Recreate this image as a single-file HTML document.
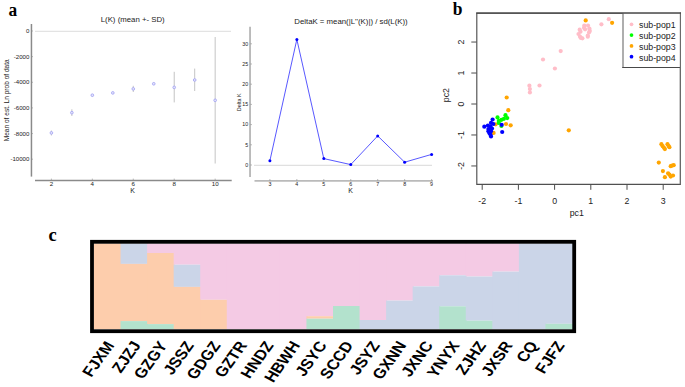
<!DOCTYPE html>
<html><head><meta charset="utf-8"><style>
html,body{margin:0;padding:0;background:#fff;}
svg{display:block;}
text{font-family:"Liberation Sans", sans-serif;}
</style></head><body>
<svg width="685" height="387" viewBox="0 0 685 387">
<rect width="685" height="387" fill="#fff"/>
<text transform="translate(8.6,15.9) scale(0.87,0.97)" style='font-family:"Liberation Serif", serif' font-weight="bold" font-size="20">a</text>
<text transform="translate(452.8,15.3) scale(0.92,0.99)" style='font-family:"Liberation Serif", serif' font-weight="bold" font-size="19">b</text>
<text transform="translate(48.4,241.3) scale(0.92,0.97)" style='font-family:"Liberation Serif", serif' font-weight="bold" font-size="20">c</text>
<line x1="35" y1="31.35" x2="231" y2="31.35" stroke="#e3e3e3" stroke-width="1.3"/>
<line x1="31.45" y1="24" x2="31.45" y2="176.6" stroke="#8a8a8a" stroke-width="1.5"/>
<line x1="35" y1="180.4" x2="231.7" y2="180.4" stroke="#8a8a8a" stroke-width="1.5"/>
<line x1="31.4" y1="31.00" x2="33" y2="31.00" stroke="#8c8c8c" stroke-width="0.6"/>
<text x="29.4" y="33.20" font-size="6.1" text-anchor="end" fill="#222">0</text>
<line x1="31.4" y1="56.64" x2="33" y2="56.64" stroke="#8c8c8c" stroke-width="0.6"/>
<text x="29.4" y="58.84" font-size="6.1" text-anchor="end" fill="#222">-2000</text>
<line x1="31.4" y1="82.28" x2="33" y2="82.28" stroke="#8c8c8c" stroke-width="0.6"/>
<text x="29.4" y="84.48" font-size="6.1" text-anchor="end" fill="#222">-4000</text>
<line x1="31.4" y1="107.92" x2="33" y2="107.92" stroke="#8c8c8c" stroke-width="0.6"/>
<text x="29.4" y="110.12" font-size="6.1" text-anchor="end" fill="#222">-6000</text>
<line x1="31.4" y1="133.56" x2="33" y2="133.56" stroke="#8c8c8c" stroke-width="0.6"/>
<text x="29.4" y="135.76" font-size="6.1" text-anchor="end" fill="#222">-8000</text>
<line x1="31.4" y1="159.20" x2="33" y2="159.20" stroke="#8c8c8c" stroke-width="0.6"/>
<text x="29.4" y="161.40" font-size="6.1" text-anchor="end" fill="#222">-10000</text>
<line x1="51.40" y1="180.4" x2="51.40" y2="178.6" stroke="#8c8c8c" stroke-width="0.6"/>
<text x="51.40" y="186" font-size="6.2" text-anchor="middle" fill="#222">2</text>
<line x1="92.34" y1="180.4" x2="92.34" y2="178.6" stroke="#8c8c8c" stroke-width="0.6"/>
<text x="92.34" y="186" font-size="6.2" text-anchor="middle" fill="#222">4</text>
<line x1="133.28" y1="180.4" x2="133.28" y2="178.6" stroke="#8c8c8c" stroke-width="0.6"/>
<text x="133.28" y="186" font-size="6.2" text-anchor="middle" fill="#222">6</text>
<line x1="174.22" y1="180.4" x2="174.22" y2="178.6" stroke="#8c8c8c" stroke-width="0.6"/>
<text x="174.22" y="186" font-size="6.2" text-anchor="middle" fill="#222">8</text>
<line x1="215.16" y1="180.4" x2="215.16" y2="178.6" stroke="#8c8c8c" stroke-width="0.6"/>
<text x="215.16" y="186" font-size="6.2" text-anchor="middle" fill="#222">10</text>
<text x="132.7" y="192.8" font-size="7" text-anchor="middle" fill="#222">K</text>
<text x="132.7" y="22.3" font-size="7.8" text-anchor="middle" fill="#222">L(K) (mean +- SD)</text>
<text transform="translate(8.6,100.3) rotate(-90)" font-size="6.55" text-anchor="middle" fill="#222">Mean of est. Ln prob of data</text>
<line x1="51.40" y1="130.5" x2="51.40" y2="135.5" stroke="#bdbdbd" stroke-width="0.9"/>
<line x1="71.87" y1="109.3" x2="71.87" y2="116" stroke="#bdbdbd" stroke-width="0.9"/>
<line x1="92.34" y1="94" x2="92.34" y2="96.4" stroke="#bdbdbd" stroke-width="0.9"/>
<line x1="112.81" y1="92" x2="112.81" y2="94" stroke="#bdbdbd" stroke-width="0.9"/>
<line x1="133.28" y1="85.8" x2="133.28" y2="92" stroke="#bdbdbd" stroke-width="0.9"/>
<line x1="153.75" y1="82.8" x2="153.75" y2="84.8" stroke="#bdbdbd" stroke-width="0.9"/>
<line x1="174.22" y1="71.8" x2="174.22" y2="102.4" stroke="#bdbdbd" stroke-width="0.9"/>
<line x1="194.69" y1="68.6" x2="194.69" y2="91" stroke="#bdbdbd" stroke-width="0.9"/>
<line x1="215.16" y1="37" x2="215.16" y2="163.5" stroke="#bdbdbd" stroke-width="0.9"/>
<circle cx="51.40" cy="132.9" r="1.35" fill="#e4e4fb" stroke="#a0a0f2" stroke-width="0.8"/>
<circle cx="71.87" cy="112.7" r="1.35" fill="#e4e4fb" stroke="#a0a0f2" stroke-width="0.8"/>
<circle cx="92.34" cy="95.2" r="1.35" fill="#e4e4fb" stroke="#a0a0f2" stroke-width="0.8"/>
<circle cx="112.81" cy="92.9" r="1.35" fill="#e4e4fb" stroke="#a0a0f2" stroke-width="0.8"/>
<circle cx="133.28" cy="88.9" r="1.35" fill="#e4e4fb" stroke="#a0a0f2" stroke-width="0.8"/>
<circle cx="153.75" cy="83.8" r="1.35" fill="#e4e4fb" stroke="#a0a0f2" stroke-width="0.8"/>
<circle cx="174.22" cy="87.4" r="1.35" fill="#e4e4fb" stroke="#a0a0f2" stroke-width="0.8"/>
<circle cx="194.69" cy="80" r="1.35" fill="#e4e4fb" stroke="#a0a0f2" stroke-width="0.8"/>
<circle cx="215.16" cy="100.3" r="1.35" fill="#e4e4fb" stroke="#a0a0f2" stroke-width="0.8"/>
<line x1="254" y1="165.45" x2="432" y2="165.45" stroke="#e0e0e0" stroke-width="1.2"/>
<line x1="250.05" y1="26.7" x2="250.05" y2="177" stroke="#bababa" stroke-width="1.9"/>
<line x1="254.5" y1="180.85" x2="433" y2="180.85" stroke="#bababa" stroke-width="1.9"/>
<line x1="250.4" y1="165.00" x2="252" y2="165.00" stroke="#8c8c8c" stroke-width="0.6"/>
<text x="248.1" y="166.70" font-size="5.3" text-anchor="end" fill="#222">0</text>
<line x1="250.4" y1="144.80" x2="252" y2="144.80" stroke="#8c8c8c" stroke-width="0.6"/>
<text x="248.1" y="146.50" font-size="5.3" text-anchor="end" fill="#222">5</text>
<line x1="250.4" y1="124.60" x2="252" y2="124.60" stroke="#8c8c8c" stroke-width="0.6"/>
<text x="248.1" y="126.30" font-size="5.3" text-anchor="end" fill="#222">10</text>
<line x1="250.4" y1="104.40" x2="252" y2="104.40" stroke="#8c8c8c" stroke-width="0.6"/>
<text x="248.1" y="106.10" font-size="5.3" text-anchor="end" fill="#222">15</text>
<line x1="250.4" y1="84.20" x2="252" y2="84.20" stroke="#8c8c8c" stroke-width="0.6"/>
<text x="248.1" y="85.90" font-size="5.3" text-anchor="end" fill="#222">20</text>
<line x1="250.4" y1="64.00" x2="252" y2="64.00" stroke="#8c8c8c" stroke-width="0.6"/>
<text x="248.1" y="65.70" font-size="5.3" text-anchor="end" fill="#222">25</text>
<line x1="250.4" y1="43.80" x2="252" y2="43.80" stroke="#8c8c8c" stroke-width="0.6"/>
<text x="248.1" y="45.50" font-size="5.3" text-anchor="end" fill="#222">30</text>
<line x1="269.90" y1="180.8" x2="269.90" y2="179" stroke="#8c8c8c" stroke-width="0.6"/>
<text x="269.90" y="186.1" font-size="5.3" text-anchor="middle" fill="#222">3</text>
<line x1="296.85" y1="180.8" x2="296.85" y2="179" stroke="#8c8c8c" stroke-width="0.6"/>
<text x="296.85" y="186.1" font-size="5.3" text-anchor="middle" fill="#222">4</text>
<line x1="323.80" y1="180.8" x2="323.80" y2="179" stroke="#8c8c8c" stroke-width="0.6"/>
<text x="323.80" y="186.1" font-size="5.3" text-anchor="middle" fill="#222">5</text>
<line x1="350.75" y1="180.8" x2="350.75" y2="179" stroke="#8c8c8c" stroke-width="0.6"/>
<text x="350.75" y="186.1" font-size="5.3" text-anchor="middle" fill="#222">6</text>
<line x1="377.70" y1="180.8" x2="377.70" y2="179" stroke="#8c8c8c" stroke-width="0.6"/>
<text x="377.70" y="186.1" font-size="5.3" text-anchor="middle" fill="#222">7</text>
<line x1="404.65" y1="180.8" x2="404.65" y2="179" stroke="#8c8c8c" stroke-width="0.6"/>
<text x="404.65" y="186.1" font-size="5.3" text-anchor="middle" fill="#222">8</text>
<line x1="431.60" y1="180.8" x2="431.60" y2="179" stroke="#8c8c8c" stroke-width="0.6"/>
<text x="431.60" y="186.1" font-size="5.3" text-anchor="middle" fill="#222">9</text>
<text x="350.6" y="192.8" font-size="7" text-anchor="middle" fill="#222">K</text>
<text x="351" y="24.3" font-size="7.8" text-anchor="middle" fill="#222">DeltaK = mean(|L''(K)|) / sd(L(K))</text>
<text transform="translate(241.1,102.3) rotate(-90)" font-size="5.4" text-anchor="middle" fill="#222">Delta K</text>
<polyline points="269.90,160.7 296.85,39.4 323.80,158.6 350.75,164.6 377.70,135.9 404.65,162.2 431.60,154.4" fill="none" stroke="#3a3aff" stroke-width="0.85"/>
<circle cx="269.90" cy="160.7" r="1.5" fill="#0000ff"/>
<circle cx="296.85" cy="39.4" r="1.5" fill="#0000ff"/>
<circle cx="323.80" cy="158.6" r="1.5" fill="#0000ff"/>
<circle cx="350.75" cy="164.6" r="1.5" fill="#0000ff"/>
<circle cx="377.70" cy="135.9" r="1.5" fill="#0000ff"/>
<circle cx="404.65" cy="162.2" r="1.5" fill="#0000ff"/>
<circle cx="431.60" cy="154.4" r="1.5" fill="#0000ff"/>
<path d="M476.8,13.15 H680.4 V184.3 H476.8 Z" fill="none" stroke="#505050" stroke-width="1.15"/>
<line x1="482.20" y1="184.1" x2="482.20" y2="189.8" stroke="#4d4d4d" stroke-width="1"/>
<text transform="translate(482.20,204) scale(1,1.1)" font-size="8.8" text-anchor="middle" fill="#222">-2</text>
<line x1="518.40" y1="184.1" x2="518.40" y2="189.8" stroke="#4d4d4d" stroke-width="1"/>
<text transform="translate(518.40,204) scale(1,1.1)" font-size="8.8" text-anchor="middle" fill="#222">-1</text>
<line x1="554.60" y1="184.1" x2="554.60" y2="189.8" stroke="#4d4d4d" stroke-width="1"/>
<text transform="translate(554.60,204) scale(1,1.1)" font-size="8.8" text-anchor="middle" fill="#222">0</text>
<line x1="590.80" y1="184.1" x2="590.80" y2="189.8" stroke="#4d4d4d" stroke-width="1"/>
<text transform="translate(590.80,204) scale(1,1.1)" font-size="8.8" text-anchor="middle" fill="#222">1</text>
<line x1="627.00" y1="184.1" x2="627.00" y2="189.8" stroke="#4d4d4d" stroke-width="1"/>
<text transform="translate(627.00,204) scale(1,1.1)" font-size="8.8" text-anchor="middle" fill="#222">2</text>
<line x1="663.20" y1="184.1" x2="663.20" y2="189.8" stroke="#4d4d4d" stroke-width="1"/>
<text transform="translate(663.20,204) scale(1,1.1)" font-size="8.8" text-anchor="middle" fill="#222">3</text>
<line x1="476.7" y1="165.96" x2="471.3" y2="165.96" stroke="#4d4d4d" stroke-width="1"/>
<text transform="translate(464.1,165.96) scale(1.1,1) rotate(-90)" font-size="8.8" text-anchor="middle" fill="#222">-2</text>
<line x1="476.7" y1="134.98" x2="471.3" y2="134.98" stroke="#4d4d4d" stroke-width="1"/>
<text transform="translate(464.1,134.98) scale(1.1,1) rotate(-90)" font-size="8.8" text-anchor="middle" fill="#222">-1</text>
<line x1="476.7" y1="104.00" x2="471.3" y2="104.00" stroke="#4d4d4d" stroke-width="1"/>
<text transform="translate(464.1,104.00) scale(1.1,1) rotate(-90)" font-size="8.8" text-anchor="middle" fill="#222">0</text>
<line x1="476.7" y1="73.02" x2="471.3" y2="73.02" stroke="#4d4d4d" stroke-width="1"/>
<text transform="translate(464.1,73.02) scale(1.1,1) rotate(-90)" font-size="8.8" text-anchor="middle" fill="#222">1</text>
<line x1="476.7" y1="42.04" x2="471.3" y2="42.04" stroke="#4d4d4d" stroke-width="1"/>
<text transform="translate(464.1,42.04) scale(1.1,1) rotate(-90)" font-size="8.8" text-anchor="middle" fill="#222">2</text>
<text transform="translate(576.8,216) scale(1,1.06)" font-size="8.8" text-anchor="middle" fill="#222">pc1</text>
<text transform="translate(448.5,95.1) rotate(-90)" font-size="8.8" text-anchor="middle" fill="#222">pc2</text>
<circle cx="608.8" cy="19.2" r="2.1" fill="#ffbdc8"/>
<circle cx="601.4" cy="24.3" r="2.1" fill="#ffbdc8"/>
<circle cx="584.3" cy="25.5" r="2.1" fill="#ffbdc8"/>
<circle cx="588" cy="25.5" r="2.1" fill="#ffbdc8"/>
<circle cx="584" cy="27.8" r="2.1" fill="#ffbdc8"/>
<circle cx="589.4" cy="28.6" r="2.1" fill="#ffbdc8"/>
<circle cx="579.7" cy="29.7" r="2.1" fill="#ffbdc8"/>
<circle cx="585.1" cy="29.3" r="2.1" fill="#ffbdc8"/>
<circle cx="589.8" cy="30.9" r="2.1" fill="#ffbdc8"/>
<circle cx="580.5" cy="31.7" r="2.1" fill="#ffbdc8"/>
<circle cx="589" cy="32.4" r="2.1" fill="#ffbdc8"/>
<circle cx="578.5" cy="34" r="2.1" fill="#ffbdc8"/>
<circle cx="587.8" cy="35.5" r="2.1" fill="#ffbdc8"/>
<circle cx="580" cy="36.7" r="2.1" fill="#ffbdc8"/>
<circle cx="587.8" cy="36.7" r="2.1" fill="#ffbdc8"/>
<circle cx="582.4" cy="38.3" r="2.1" fill="#ffbdc8"/>
<circle cx="580.9" cy="37.9" r="2.1" fill="#ffbdc8"/>
<circle cx="560.7" cy="51.1" r="2.1" fill="#ffbdc8"/>
<circle cx="543" cy="59.5" r="2.1" fill="#ffbdc8"/>
<circle cx="554.9" cy="68.5" r="2.1" fill="#ffbdc8"/>
<circle cx="539.5" cy="85.5" r="2.1" fill="#ffbdc8"/>
<circle cx="529.4" cy="85.7" r="2.1" fill="#ffbdc8"/>
<circle cx="529.9" cy="89.1" r="2.1" fill="#ffbdc8"/>
<circle cx="529.9" cy="92.5" r="2.1" fill="#ffbdc8"/>
<circle cx="585.7" cy="20.4" r="2.1" fill="#ffa500"/>
<circle cx="612.1" cy="22.8" r="2.1" fill="#ffa500"/>
<circle cx="506.7" cy="97.5" r="2.1" fill="#ffa500"/>
<circle cx="508.3" cy="110.2" r="2.1" fill="#ffa500"/>
<circle cx="506" cy="124" r="2.1" fill="#ffa500"/>
<circle cx="510.7" cy="125.3" r="2.1" fill="#ffa500"/>
<circle cx="495.7" cy="124.3" r="2.1" fill="#ffa500"/>
<circle cx="493.6" cy="132.9" r="2.1" fill="#ffa500"/>
<circle cx="568.8" cy="130.3" r="2.1" fill="#ffa500"/>
<circle cx="661.4" cy="144.2" r="2.1" fill="#ffa500"/>
<circle cx="662.7" cy="146.2" r="2.1" fill="#ffa500"/>
<circle cx="664" cy="147.8" r="2.1" fill="#ffa500"/>
<circle cx="664.9" cy="149.1" r="2.1" fill="#ffa500"/>
<circle cx="667.5" cy="144.2" r="2.1" fill="#ffa500"/>
<circle cx="668.5" cy="145.8" r="2.1" fill="#ffa500"/>
<circle cx="669.4" cy="147.2" r="2.1" fill="#ffa500"/>
<circle cx="658.8" cy="162.6" r="2.1" fill="#ffa500"/>
<circle cx="670.7" cy="166.2" r="2.1" fill="#ffa500"/>
<circle cx="672" cy="165.6" r="2.1" fill="#ffa500"/>
<circle cx="673.7" cy="165.2" r="2.1" fill="#ffa500"/>
<circle cx="662.9" cy="171.1" r="2.1" fill="#ffa500"/>
<circle cx="668.1" cy="173.3" r="2.1" fill="#ffa500"/>
<circle cx="669.4" cy="174.6" r="2.1" fill="#ffa500"/>
<circle cx="670.7" cy="176.6" r="2.1" fill="#ffa500"/>
<circle cx="673" cy="175.5" r="2.1" fill="#ffa500"/>
<circle cx="664.9" cy="177.2" r="2.1" fill="#ffa500"/>
<circle cx="497.5" cy="117.4" r="2.1" fill="#00ff00"/>
<circle cx="505.5" cy="115.2" r="2.1" fill="#00ff00"/>
<circle cx="507.2" cy="118.1" r="2.1" fill="#00ff00"/>
<circle cx="503.9" cy="118.8" r="2.1" fill="#00ff00"/>
<circle cx="501.4" cy="119.8" r="2.1" fill="#00ff00"/>
<circle cx="498.8" cy="120.9" r="2.1" fill="#00ff00"/>
<circle cx="498.8" cy="122.9" r="2.1" fill="#00ff00"/>
<circle cx="501.4" cy="126" r="2.1" fill="#00ff00"/>
<circle cx="492.6" cy="119.5" r="2.1" fill="#0000ff"/>
<circle cx="491" cy="122.9" r="2.1" fill="#0000ff"/>
<circle cx="493.4" cy="124" r="2.1" fill="#0000ff"/>
<circle cx="487.9" cy="125.5" r="2.1" fill="#0000ff"/>
<circle cx="484.3" cy="126.7" r="2.1" fill="#0000ff"/>
<circle cx="490.5" cy="126.5" r="2.1" fill="#0000ff"/>
<circle cx="492" cy="128.6" r="2.1" fill="#0000ff"/>
<circle cx="488.4" cy="129.1" r="2.1" fill="#0000ff"/>
<circle cx="488.4" cy="131.2" r="2.1" fill="#0000ff"/>
<circle cx="491" cy="131.2" r="2.1" fill="#0000ff"/>
<circle cx="489.5" cy="133.3" r="2.1" fill="#0000ff"/>
<circle cx="490.5" cy="134.8" r="2.1" fill="#0000ff"/>
<circle cx="491" cy="136.4" r="2.1" fill="#0000ff"/>
<circle cx="501.7" cy="124.8" r="2.1" fill="#0000ff"/>
<circle cx="502.2" cy="132" r="2.1" fill="#0000ff"/>
<rect x="623" y="13.15" width="57.4" height="54.35" fill="#fff" stroke="none"/>
<line x1="623" y1="13.15" x2="623" y2="67.5" stroke="#9a9a9a" stroke-width="1.6"/>
<line x1="622.2" y1="67.5" x2="680.4" y2="67.5" stroke="#484848" stroke-width="1.1"/>
<line x1="680.4" y1="12.6" x2="680.4" y2="184.85" stroke="#6a6a6a" stroke-width="1.15"/>
<line x1="476.2" y1="13.15" x2="681" y2="13.15" stroke="#484848" stroke-width="1.1"/>
<circle cx="631.5" cy="24.30" r="1.85" fill="#ffbdc8"/>
<text transform="translate(639,28.20) scale(1,1.06)" font-size="8.8" fill="#222">sub-pop1</text>
<circle cx="631.5" cy="35.10" r="1.85" fill="#00ff00"/>
<text transform="translate(639,39.00) scale(1,1.06)" font-size="8.8" fill="#222">sub-pop2</text>
<circle cx="631.5" cy="45.90" r="1.85" fill="#ffa500"/>
<text transform="translate(639,49.80) scale(1,1.06)" font-size="8.8" fill="#222">sub-pop3</text>
<circle cx="631.5" cy="56.70" r="1.85" fill="#0000ff"/>
<text transform="translate(639,60.60) scale(1,1.06)" font-size="8.8" fill="#222">sub-pop4</text>
<rect x="94.00" y="243.50" width="27.56" height="85.50" fill="#fdcdac"/>
<rect x="120.56" y="243.50" width="27.56" height="20.40" fill="#cbd5e8"/>
<rect x="120.56" y="263.90" width="27.56" height="57.20" fill="#fdcdac"/>
<rect x="120.56" y="321.10" width="27.56" height="7.90" fill="#b3e2cd"/>
<rect x="147.11" y="243.50" width="27.56" height="9.50" fill="#f4cae4"/>
<rect x="147.11" y="253.00" width="27.56" height="71.10" fill="#fdcdac"/>
<rect x="147.11" y="324.10" width="27.56" height="4.90" fill="#b3e2cd"/>
<rect x="173.67" y="243.50" width="27.56" height="21.20" fill="#f4cae4"/>
<rect x="173.67" y="264.70" width="27.56" height="22.20" fill="#cbd5e8"/>
<rect x="173.67" y="286.90" width="27.56" height="42.10" fill="#fdcdac"/>
<rect x="200.22" y="243.50" width="27.56" height="56.30" fill="#f4cae4"/>
<rect x="200.22" y="299.80" width="27.56" height="29.20" fill="#fdcdac"/>
<rect x="226.78" y="243.50" width="27.56" height="85.50" fill="#f4cae4"/>
<rect x="253.33" y="243.50" width="27.56" height="85.50" fill="#f4cae4"/>
<rect x="279.89" y="243.50" width="27.56" height="85.50" fill="#f4cae4"/>
<rect x="306.44" y="243.50" width="27.56" height="72.70" fill="#f4cae4"/>
<rect x="306.44" y="316.20" width="27.56" height="2.50" fill="#fdcdac"/>
<rect x="306.44" y="318.70" width="27.56" height="10.30" fill="#b3e2cd"/>
<rect x="333.00" y="243.50" width="27.56" height="62.50" fill="#f4cae4"/>
<rect x="333.00" y="306.00" width="27.56" height="23.00" fill="#b3e2cd"/>
<rect x="359.56" y="243.50" width="27.56" height="76.50" fill="#f4cae4"/>
<rect x="359.56" y="320.00" width="27.56" height="9.00" fill="#cbd5e8"/>
<rect x="386.11" y="243.50" width="27.56" height="57.10" fill="#f4cae4"/>
<rect x="386.11" y="300.60" width="27.56" height="28.40" fill="#cbd5e8"/>
<rect x="412.67" y="243.50" width="27.56" height="42.90" fill="#f4cae4"/>
<rect x="412.67" y="286.40" width="27.56" height="42.60" fill="#cbd5e8"/>
<rect x="439.22" y="243.50" width="27.56" height="31.80" fill="#f4cae4"/>
<rect x="439.22" y="275.30" width="27.56" height="31.00" fill="#cbd5e8"/>
<rect x="439.22" y="306.30" width="27.56" height="22.70" fill="#b3e2cd"/>
<rect x="465.78" y="243.50" width="27.56" height="33.00" fill="#f4cae4"/>
<rect x="465.78" y="276.50" width="27.56" height="44.20" fill="#cbd5e8"/>
<rect x="465.78" y="320.70" width="27.56" height="8.30" fill="#b3e2cd"/>
<rect x="492.33" y="243.50" width="27.56" height="28.10" fill="#f4cae4"/>
<rect x="492.33" y="271.60" width="27.56" height="57.40" fill="#cbd5e8"/>
<rect x="518.89" y="243.50" width="27.56" height="85.50" fill="#cbd5e8"/>
<rect x="545.44" y="243.50" width="27.56" height="80.30" fill="#cbd5e8"/>
<rect x="545.44" y="323.80" width="27.56" height="5.20" fill="#b3e2cd"/>
<rect x="92" y="241.8" width="482.2" height="89.4" fill="none" stroke="#000" stroke-width="3.8"/>
<text transform="translate(114.88,345.30) scale(1,0.86) rotate(-58)" font-size="16.75" font-weight="bold" text-anchor="end" fill="#000">FJXM</text>
<text transform="translate(141.43,345.30) scale(1,0.86) rotate(-58)" font-size="16.75" font-weight="bold" text-anchor="end" fill="#000">ZJZJ</text>
<text transform="translate(167.99,345.30) scale(1,0.86) rotate(-58)" font-size="16.75" font-weight="bold" text-anchor="end" fill="#000">GZGY</text>
<text transform="translate(194.54,345.30) scale(1,0.86) rotate(-58)" font-size="16.75" font-weight="bold" text-anchor="end" fill="#000">JSSZ</text>
<text transform="translate(221.10,345.30) scale(1,0.86) rotate(-58)" font-size="16.75" font-weight="bold" text-anchor="end" fill="#000">GDGZ</text>
<text transform="translate(247.66,345.30) scale(1,0.86) rotate(-58)" font-size="16.75" font-weight="bold" text-anchor="end" fill="#000">GZTR</text>
<text transform="translate(274.21,345.30) scale(1,0.86) rotate(-58)" font-size="16.75" font-weight="bold" text-anchor="end" fill="#000">HNDZ</text>
<text transform="translate(300.77,345.30) scale(1,0.86) rotate(-58)" font-size="16.75" font-weight="bold" text-anchor="end" fill="#000">HBWH</text>
<text transform="translate(327.32,345.30) scale(1,0.86) rotate(-58)" font-size="16.75" font-weight="bold" text-anchor="end" fill="#000">JSYC</text>
<text transform="translate(353.88,345.30) scale(1,0.86) rotate(-58)" font-size="16.75" font-weight="bold" text-anchor="end" fill="#000">SCCD</text>
<text transform="translate(380.43,345.30) scale(1,0.86) rotate(-58)" font-size="16.75" font-weight="bold" text-anchor="end" fill="#000">JSYZ</text>
<text transform="translate(406.99,345.30) scale(1,0.86) rotate(-58)" font-size="16.75" font-weight="bold" text-anchor="end" fill="#000">GXNN</text>
<text transform="translate(433.54,345.30) scale(1,0.86) rotate(-58)" font-size="16.75" font-weight="bold" text-anchor="end" fill="#000">JXNC</text>
<text transform="translate(460.10,345.30) scale(1,0.86) rotate(-58)" font-size="16.75" font-weight="bold" text-anchor="end" fill="#000">YNYX</text>
<text transform="translate(486.66,345.30) scale(1,0.86) rotate(-58)" font-size="16.75" font-weight="bold" text-anchor="end" fill="#000">ZJHZ</text>
<text transform="translate(513.21,345.30) scale(1,0.86) rotate(-58)" font-size="16.75" font-weight="bold" text-anchor="end" fill="#000">JXSR</text>
<text transform="translate(538.47,345.30) scale(1,0.86) rotate(-58)" font-size="16.75" font-weight="bold" text-anchor="end" fill="#000">CQ</text>
<text transform="translate(565.17,345.30) scale(1,0.86) rotate(-58)" font-size="16.75" font-weight="bold" text-anchor="end" fill="#000">FJFZ</text>
</svg>
</body></html>
